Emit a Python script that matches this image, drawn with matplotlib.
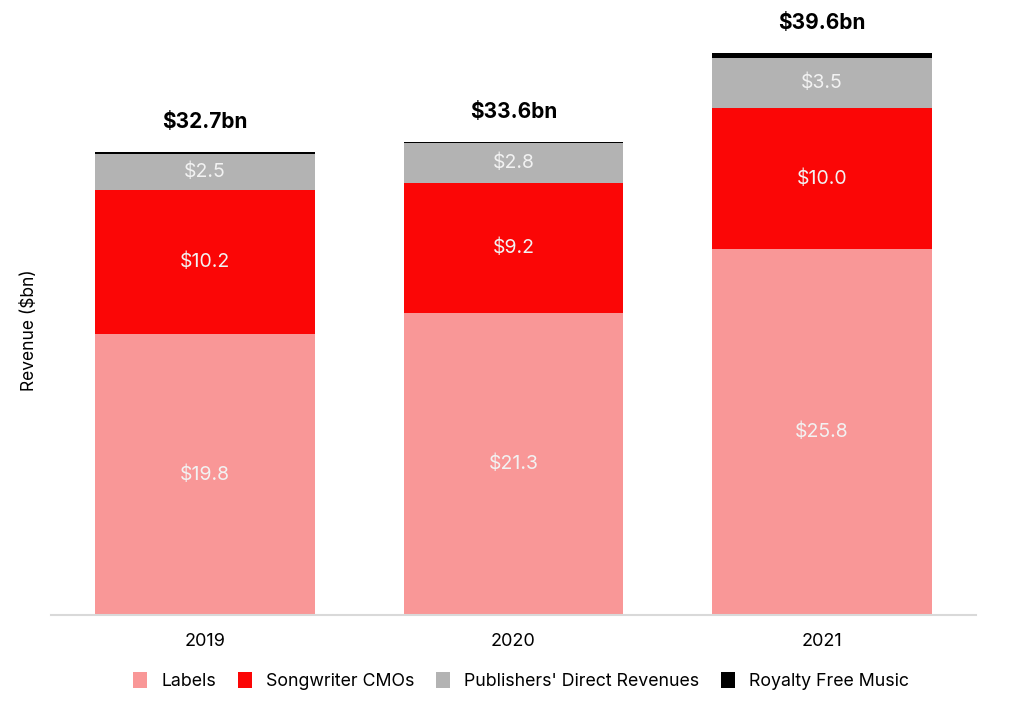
import matplotlib
matplotlib.use('Agg')
import matplotlib.pyplot as plt
import numpy as np

plt.rcParams['font.family'] = ['Inter', 'DejaVu Sans']

years = ['2019', '2020', '2021']
labels_rev = [19.8, 21.3, 25.8]
cmo_rev = [10.2, 9.2, 10.0]
publishers_rev = [2.5, 2.8, 3.5]
royalty_free = [0.2, 0.1, 0.35]
totals = ['$32.7bn', '$33.6bn', '$39.6bn']

series = [
    ('Labels', labels_rev, '#f99797', True),
    ('Songwriter CMOs', cmo_rev, '#fb0606', True),
    ("Publishers' Direct Revenues", publishers_rev, '#b3b3b3', True),
    ('Royalty Free Music', royalty_free, '#000000', False),
]

fig = plt.figure(figsize=(10.24, 7.2), dpi=100)
ax = fig.add_axes([51 / 1024, 105 / 720, 925 / 1024, 615 / 720])

x = np.arange(len(years))
bottom = np.zeros(len(years))
for name, vals, color, show in series:
    vals = np.array(vals)
    ax.bar(x, vals, 0.713, bottom=bottom, color=color, label=name)
    if show:
        for xi, b, v in zip(x, bottom, vals):
            ax.text(xi, b + v / 2, '$%.1f' % v, ha='center', va='center',
                    color='#f2f2f2', fontsize=14)
    bottom = bottom + vals

for xi, top, t in zip(x, bottom, totals):
    ax.text(xi, top + 1.4, t, ha='center', va='bottom', fontsize=15,
            fontweight='bold', color='black')

ax.set_xlim(-0.5, 2.5)
ax.set_ylim(0, 43.4)
ax.set_xticks(x)
ax.set_xticklabels(years, fontsize=13)
ax.tick_params(axis='x', length=0, pad=13)
ax.set_yticks([])
for s in ['top', 'right', 'left']:
    ax.spines[s].set_visible(False)
ax.spines['bottom'].set_color('#d9d9d9')
ax.spines['bottom'].set_linewidth(1.5)

fig.text(30 / 1024, 1 - 330 / 720, 'Revenue ($bn)', rotation=90, ha='center',
         va='center', fontsize=12.5)

leg = fig.legend(loc='center', bbox_to_anchor=(521 / 1024, 1 - 681 / 720), ncol=4,
                 frameon=False, fontsize=12.8, handlelength=0.8, handleheight=1.0,
                 handletextpad=0.8, columnspacing=1.2)

fig.savefig('out.png', dpi=100)
